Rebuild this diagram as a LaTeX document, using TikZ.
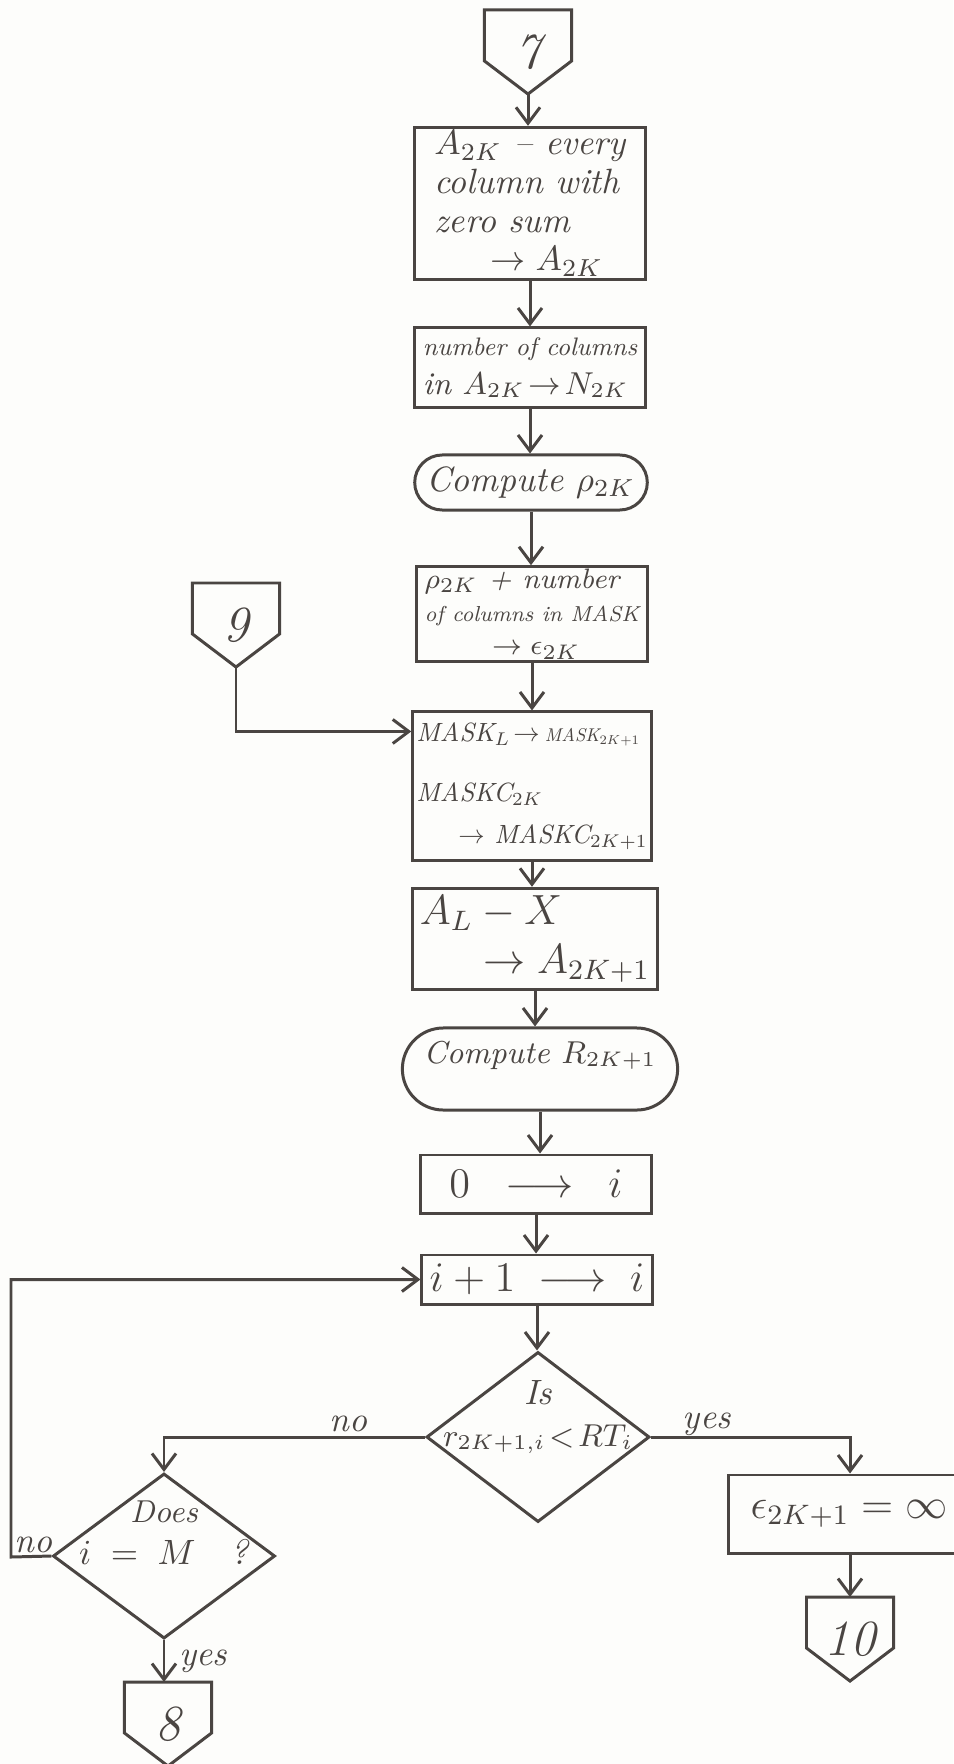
\documentclass[tikz,border=0pt]{standalone}
\usepackage{amsmath}
\usepackage{graphicx}
\usepackage{tikz}
\usetikzlibrary{arrows.meta, positioning, calc, shapes.geometric, shapes.misc}

\definecolor{ink}{HTML}{4A4542}
\definecolor{paper}{HTML}{FDFDFB}

\tikzset{
  box/.style={draw, rectangle, minimum width=2.3cm, inner sep=2pt, align=left, font=\itshape},
  term/.style={draw, rounded rectangle, minimum width=2.3cm, inner sep=2pt, font=\itshape},
  decision/.style={draw, diamond, inner sep=0pt},
  offpage/.style={minimum width=0.84cm, minimum height=0.81cm, inner sep=0pt, font=\itshape\Large},
  lab/.style={font=\itshape, inner sep=1pt},
}

\begin{document}
\begin{tikzpicture}[x=0.01cm, y=-0.01cm, >={Straight Barb[length=1.6mm,width=2.4mm]}, line width=0.85pt, ink]
    \useasboundingbox (0,0) rectangle (953,1764);
    \path[fill=paper, draw=none] (0,0) rectangle (953,1764);

    % Conectores de pagina
    \node[offpage, anchor=north] (c7) at (528,10) {7};
    \node[offpage, anchor=north] (c9) at (236,583) {9};
    \node[offpage, anchor=north] (c10) at (850,1597) {10};
    \node[offpage, anchor=north] (c8) at (168,1682) {8};
    \foreach \c in {c7, c9, c10, c8}
        \draw (\c.north west) -- (\c.north east) -- ([yshift=3.3mm]\c.south east)
              -- (\c.south) -- ([yshift=3.3mm]\c.south west) -- cycle;

    % Coluna principal
    \node[box, minimum height=1.47cm, inner sep=1pt, font=\itshape\fontsize{10}{11}\selectfont] (b1) at (530,203.5)
        {$A_{2K}$ -- every\\ column with\\ zero sum\\ \hspace*{1.6em}$\rightarrow A_{2K}$};
    \node[box, minimum height=0.79cm, font=\itshape\small] (b2) at (530,367.5)
        {\scalebox{0.8}{number of columns}\\ in $A_{2K}\!\rightarrow\! N_{2K}$};
    \node[term, minimum height=0.55cm] (t1) at (531,482.5) {Compute $\rho_{2K}$};
    \node[box, minimum height=0.82cm, inner sep=0.5pt, font=\itshape\footnotesize] (b3) at (532,614)
        {$\rho_{2K}$ + number\\ \scalebox{0.77}{of columns in MASK}\\ \hspace*{2.4em}$\rightarrow \epsilon_{2K}$};
    \node[box, minimum height=1.48cm, inner sep=1pt, font=\itshape] (b4) at (532,786)
        {\scalebox{0.75}{MASK$_L\!\rightarrow\!$ \scalebox{0.7}{MASK$_{2K+1}$}}\\[5pt]
         \scalebox{0.75}{MASKC$_{2K}$}\\ \hspace*{1.2em}\scalebox{0.75}{$\rightarrow$ MASKC$_{2K+1}$}};
    \node[box, minimum height=0.84cm, font=\itshape\large] (b5) at (535,939)
        {$A_L - X$\\ \hspace*{1.5em}$\rightarrow A_{2K+1}$};
    \node[term, minimum height=0.82cm, font=\itshape\small, text height=0.25cm, text depth=0.37cm] (t2) at (540,1069)
        {Compute $R_{2K+1}$};
    \node[box, minimum height=0.58cm, font=\large] (b6) at (536,1184) {$0 \;\;\longrightarrow\;\; i$};
    \node[box, minimum height=0.49cm, font=\large] (b7) at (537,1279.5) {$i + 1 \;\longrightarrow\; i$};

    % Decisoes
    \node[decision, minimum width=2.23cm, minimum height=1.70cm,
          label={[lab, align=center, yshift=2mm]center:Is\\ {\small $r_{2K+1,i}\!<\!RT_i$}}] (d1) at (538,1437) {};
    \node[decision, minimum width=2.22cm, minimum height=1.65cm,
          label={[lab, align=center, yshift=2.3mm]center:{\small Does}\\ $i \;=\; M$\quad ?}] (d2) at (164,1556) {};

    \node[box, minimum width=2.4cm, minimum height=0.78cm, font=\large] (b8) at (849,1514) {$\epsilon_{2K+1} = \infty$};

    \coordinate (loop) at (11,1557);

    % Setas
    \draw[->] (c7.south) -- (c7.south |- b1.north);
    \draw[->] (b1.south) -- (b1.south |- b2.north);
    \draw[->] (b2.south) -- (b2.south |- t1.north);
    \draw[->] (t1.south) -- (t1.south |- b3.north);
    \draw[->] (b3.south) -- (b3.south |- b4.north);
    \draw[->] (c9.south) |- ([yshift=-2.1mm]b4.north west);
    \draw[->] (b4.south) -- (b4.south |- b5.north);
    \draw[->] (b5.south) -- (b5.south |- t2.north);
    \draw[->] (t2.south) -- (t2.south |- b6.north);
    \draw[->] (b6.south) -- (b6.south |- b7.north);
    \draw[->] (b7.south) -- (b7.south |- d1.north);

    \draw[->] (d1.west) -| node[lab, above, pos=0.147] {no} (d2.north);
    \draw[->] (d1.east) -| node[lab, above, pos=0.14, inner sep=0pt] {yes} (c10.north |- b8.north);
    \draw[->] (c10.north |- b8.south) -- (c10.north);
    \draw[->] (d2.west) -- node[lab, above, pos=0.45, inner sep=0.5pt] {no} (loop) |- (b7.west);
    \draw[->] (d2.south) -- node[lab, right, xshift=1mm] {yes} (d2.south |- c8.north);

\end{tikzpicture}
\end{document}
